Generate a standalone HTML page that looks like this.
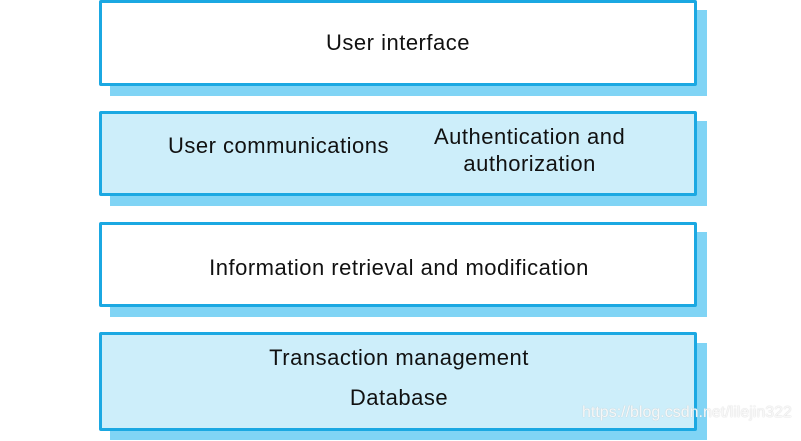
<!DOCTYPE html>
<html><head><style>
body{margin:0;width:801px;height:441px;background:#fff;position:relative;overflow:hidden;font-family:"Liberation Sans",sans-serif;}
.s{position:absolute;background:#80d4f5;}
.b{position:absolute;border:3px solid #1ba8e2;border-radius:2px;box-sizing:border-box;}
.t{position:absolute;font-size:22px;letter-spacing:0.5px;color:#111;white-space:nowrap;text-align:center;}
</style></head><body>
<div class="s" style="left:110px;top:10px;width:597px;height:86px"></div>
<div class="b" style="left:99px;top:0;width:598px;height:86px;background:#fff"></div>
<div class="t" style="left:99px;width:598px;top:30px">User interface</div>

<div class="s" style="left:110px;top:121px;width:597px;height:85px"></div>
<div class="b" style="left:99px;top:111px;width:598px;height:85px;background:#cdeefa"></div>
<div class="t" style="left:168px;top:133px">User communications</div>
<div class="t" style="left:434px;top:123px;line-height:27px">Authentication and<br>authorization</div>

<div class="s" style="left:110px;top:232px;width:597px;height:85px"></div>
<div class="b" style="left:99px;top:222px;width:598px;height:85px;background:#fff"></div>
<div class="t" style="left:99px;width:600px;top:255px">Information retrieval and modification</div>

<div class="s" style="left:110px;top:343px;width:597px;height:97px"></div>
<div class="b" style="left:99px;top:332px;width:598px;height:99px;background:#cdeefa"></div>
<div class="t" style="left:99px;width:600px;top:345px">Transaction management</div>
<div class="t" style="left:99px;width:600px;top:385px">Database</div>
<div style="position:absolute;left:582px;top:404px;font-size:16px;color:rgba(255,255,255,0.85);text-shadow:0 0 1px #bbb">https://blog.csdn.net/lilejin322</div>
</body></html>
